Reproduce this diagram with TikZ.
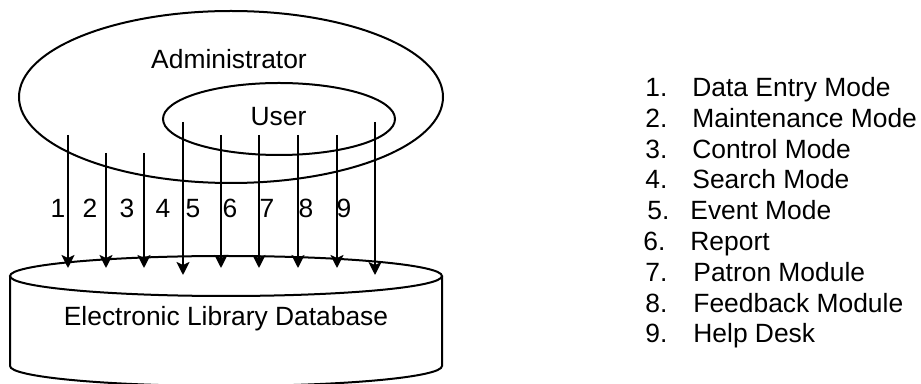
\documentclass[tikz,border=0pt]{standalone}
\usepackage{fontspec}
\setmainfont{Liberation Sans}
\usetikzlibrary{shapes.geometric,arrows.meta}
\begin{document}
\begin{tikzpicture}[x=0.5pt,y=-0.5pt,
  every node/.style={font=\fontsize{13.2}{15}\selectfont, inner sep=0pt},
  ln/.style={line width=1pt},
  flow/.style={line width=1pt, -{Stealth[length=6.5pt,width=6.5pt,inset=1.5pt]}},
  lbl/.style={anchor=base},
  item/.style={anchor=base west}]
\useasboundingbox (0,0) rectangle (921,384);
% ellipses
\node[ellipse, draw, ln, minimum width=212pt, minimum height=86pt] (admin) at (231,97) {};
\node[ellipse, draw, ln, minimum width=116pt, minimum height=36pt] (user) at (279,119) {};
\node[lbl] (admintxt) at (229,69) {Administrator};
\node[lbl] (usertxt) at (278.5,126) {User};
% cylinder
\draw[ln] (226,276) ellipse [x radius=108pt, y radius=10pt];
\draw[ln] (10,276) -- (10,366) arc[start angle=180, end angle=360, x radius=108pt, y radius=10pt] -- (442,276);
\node[lbl] (db) at (226,326) {Electronic Library Database};
% arrows
\coordinate (s1) at (68,135);  \coordinate (e1) at (68,268);
\coordinate (s2) at (106,153); \coordinate (e2) at (106,268);
\coordinate (s3) at (144,153); \coordinate (e3) at (144,268);
\coordinate (s4) at (183,122); \coordinate (e4) at (183,275);
\coordinate (s5) at (221,135); \coordinate (e5) at (221,268);
\coordinate (s6) at (259,135); \coordinate (e6) at (259,268);
\coordinate (s7) at (298,135); \coordinate (e7) at (298,268);
\coordinate (s8) at (337,135); \coordinate (e8) at (337,268);
\coordinate (s9) at (375,122); \coordinate (e9) at (375,275);
\foreach \i in {1,...,9} {\draw[flow] (s\i) -- (e\i);}
% arrow labels
\node[lbl] (n1) at (58,218) {1};
\node[lbl] (n2) at (90,218) {2};
\node[lbl] (n3) at (127,218) {3};
\node[lbl] (n4) at (163,218) {4};
\node[lbl] (n5) at (193,218) {5};
\node[lbl] (n6) at (230,218) {6};
\node[lbl] (n7) at (267,218) {7};
\node[lbl] (n8) at (306,218) {8};
\node[lbl] (n9) at (344,218) {9};
% legend
\node[item] (l1n) at (645,97) {1.};  \node[item] (l1) at (692,97) {Data Entry Mode};
\node[item] (l2n) at (645,128) {2.}; \node[item] (l2) at (692,128) {Maintenance Mode};
\node[item] (l3n) at (645,159) {3.}; \node[item] (l3) at (692,159) {Control Mode};
\node[item] (l4n) at (645,189) {4.}; \node[item] (l4) at (692,189) {Search Mode};
\node[item] (l5n) at (647,220) {5.}; \node[item] (l5) at (690,220) {Event Mode};
\node[item] (l6n) at (643,251) {6.}; \node[item] (l6) at (690,251) {Report};
\node[item] (l7n) at (645,282) {7.}; \node[item] (l7) at (693,282) {Patron Module};
\node[item] (l8n) at (645,313) {8.}; \node[item] (l8) at (693,313) {Feedback Module};
\node[item] (l9n) at (645,343) {9.}; \node[item] (l9) at (693,343) {Help Desk};
\end{tikzpicture}
\end{document}
